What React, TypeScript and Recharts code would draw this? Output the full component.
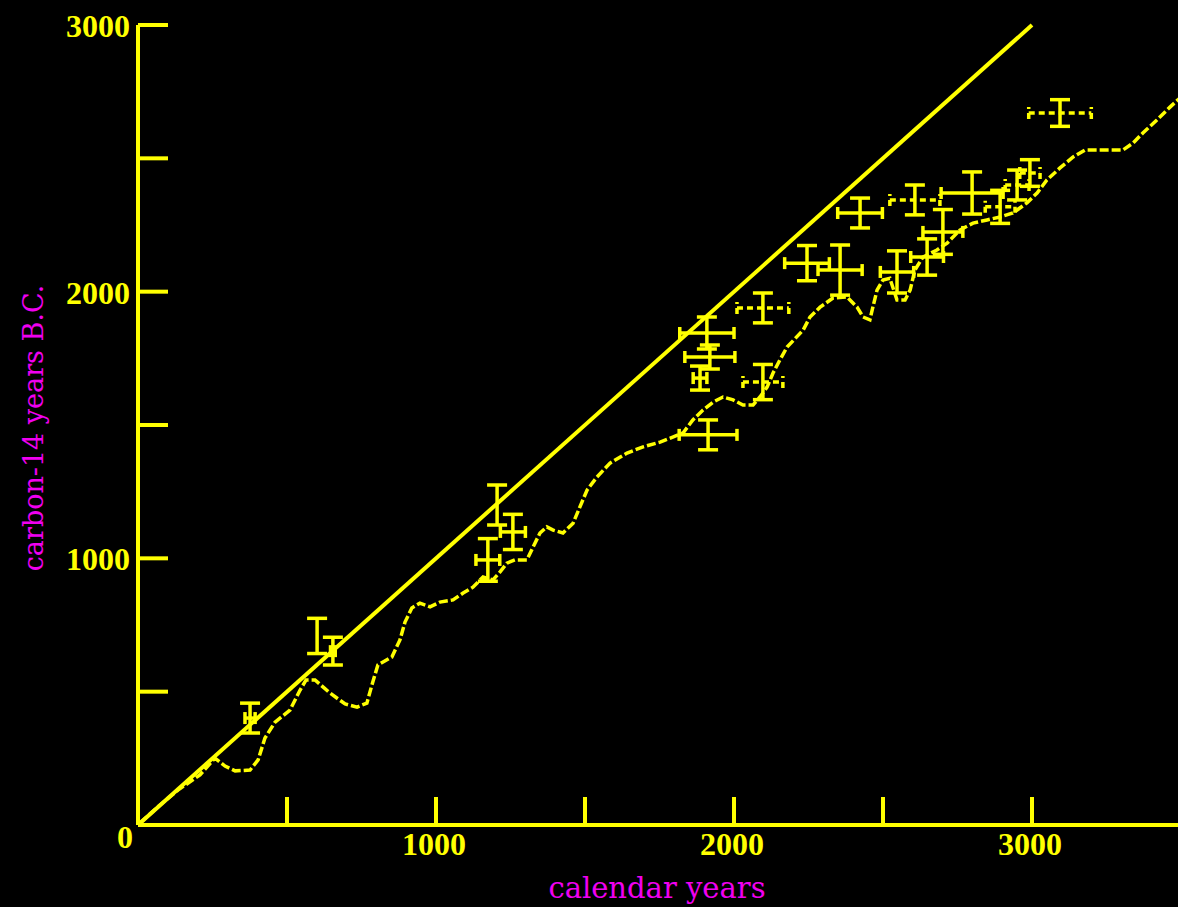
import React from 'react';
import { ScatterChart, Scatter, XAxis, YAxis, ErrorBar } from 'recharts';

const YELLOW = '#ffff00';
const MAGENTA = '#f000f0';

const X_TICKS = [0, 500, 1000, 1500, 2000, 2500, 3000, 3500];
const Y_TICKS = [0, 500, 1000, 1500, 2000, 2500, 3000];
const LABELLED = [1000, 2000, 3000];

// calendar years vs carbon-14 years
const DIAGONAL: [number, number][] = [[0, 0], [3000, 3000]];

const CALIBRATION: [number, number][] = [
  [7, 8], [74, 75], [134, 131], [208, 188], [258, 251], [292, 221], [326, 203], [376, 206],
  [403, 244], [426, 326], [460, 386], [510, 431], [544, 506], [564, 544], [594, 544], [644, 495],
  [695, 454], [735, 442], [768, 457], [785, 525], [805, 600], [852, 630], [879, 694], [896, 761],
  [919, 814], [946, 832], [980, 818], [1013, 836], [1057, 844], [1091, 870], [1124, 892],
  [1158, 930], [1191, 919], [1215, 949], [1238, 982], [1265, 994], [1305, 994], [1326, 1043],
  [1349, 1095], [1372, 1118], [1393, 1106], [1426, 1095], [1460, 1132], [1483, 1193],
  [1507, 1256], [1540, 1305], [1584, 1357], [1641, 1395], [1695, 1418], [1752, 1436],
  [1829, 1470], [1862, 1519], [1896, 1556], [1930, 1586], [1963, 1605], [1997, 1594],
  [2030, 1575], [2064, 1575], [2087, 1605], [2111, 1642], [2131, 1695], [2154, 1744],
  [2178, 1792], [2232, 1856], [2255, 1905], [2289, 1942], [2332, 1976], [2379, 1980],
  [2413, 1942], [2433, 1905], [2456, 1894], [2466, 1942], [2480, 2006], [2500, 2044],
  [2523, 2050], [2547, 1969], [2574, 1969], [2591, 2006], [2607, 2081], [2634, 2130],
  [2681, 2156], [2715, 2182], [2758, 2231], [2802, 2257], [2849, 2269], [2893, 2280],
  [2936, 2295], [2983, 2333], [3017, 2370], [3050, 2419], [3094, 2464], [3138, 2505],
  [3178, 2531], [3228, 2531], [3305, 2531], [3339, 2557], [3372, 2595], [3419, 2644],
  [3463, 2692], [3500, 2730],
];

// [calendar, c14, calendar error, c14 error]
const SAMPLES: [number, number, number, number][] = [
  [376, 401, 17, 56], [601, 709, 0, 66], [654, 652, 8, 52], [1205, 1200, 0, 75],
  [1258, 1099, 42, 66], [1174, 994, 40, 80], [1909, 1845, 91, 60], [1919, 1755, 84, 45],
  [1886, 1676, 23, 45], [1913, 1463, 97, 56], [2245, 2107, 75, 66], [2356, 2081, 74, 94],
  [2423, 2295, 75, 56], [2547, 2074, 56, 79], [2648, 2130, 55, 68], [2701, 2224, 67, 84],
  [2799, 2370, 104, 79],
];

// samples whose calendar range is drawn dashed
const SAMPLES_DASHED: [number, number, number, number][] = [
  [2097, 1939, 87, 56], [2097, 1661, 67, 66], [2607, 2344, 84, 56], [2893, 2318, 50, 62],
  [2950, 2400, 40, 56], [2993, 2445, 34, 50], [3094, 2670, 105, 50],
];

const toXY = (rows: [number, number][]) => rows.map(([x, y]) => ({ x, y }));
const toErr = (rows: [number, number, number, number][]) =>
  rows.map(([x, y, ex, ey]) => ({ x, y, ex, ey }));

const noDot = () => <g />;

const numFont = { fontFamily: '"Liberation Serif", serif', fontSize: 32, fontWeight: 700, fill: YELLOW };

const XTick = (props: any) => {
  const { x, y, payload } = props;
  const v = payload.value;
  return (
    <g>
      {v > 0 && <line x1={x} y1={y} x2={x} y2={y - 28} stroke={YELLOW} strokeWidth={4} />}
      {LABELLED.includes(v) && (
        <text x={x - 2} y={y + 30} textAnchor="middle" {...numFont}>{v}</text>
      )}
      {v === 0 && (
        <text x={x - 13} y={y + 23} textAnchor="middle" {...numFont}>0</text>
      )}
    </g>
  );
};

const YTick = (props: any) => {
  const { x, y, payload } = props;
  const v = payload.value;
  return (
    <g>
      {v > 0 && <line x1={x} y1={y} x2={x + 30} y2={y} stroke={YELLOW} strokeWidth={4} />}
      {LABELLED.includes(v) && (
        <text x={x - 8} y={y + 12} textAnchor="end" {...numFont}>{v}</text>
      )}
    </g>
  );
};

export default function App() {
  return (
    <div style={{ position: 'absolute', left: 0, top: 0, width: 1178, height: 907, overflow: 'hidden', background: '#000' }}>
      <ScatterChart width={1200} height={907} margin={{ top: 25, right: 19, bottom: 0, left: 0 }}>
        <XAxis
          type="number"
          dataKey="x"
          domain={[0, 3500]}
          ticks={X_TICKS}
          interval={0}
          height={82}
          tickSize={0}
          tickMargin={0}
          tickLine={false}
          axisLine={{ stroke: YELLOW, strokeWidth: 4 }}
          tick={<XTick />}
        />
        <YAxis
          type="number"
          dataKey="y"
          domain={[0, 3000]}
          ticks={Y_TICKS}
          interval={0}
          width={138}
          tickSize={0}
          tickMargin={0}
          tickLine={false}
          axisLine={{ stroke: YELLOW, strokeWidth: 4 }}
          tick={<YTick />}
        />
        <Scatter
          data={toXY(DIAGONAL)}
          shape={noDot}
          stroke={YELLOW}
          line={{ stroke: YELLOW, strokeWidth: 4 }}
          lineType="joint"
          isAnimationActive={false}
        />
        <Scatter
          data={toXY(CALIBRATION)}
          shape={noDot}
          stroke={YELLOW}
          line={{ stroke: YELLOW, strokeWidth: 3.5, strokeDasharray: '9 3' }}
          lineType="joint"
          isAnimationActive={false}
        />
        <Scatter data={toErr(SAMPLES)} shape={noDot} isAnimationActive={false}>
          <ErrorBar dataKey="ex" direction="x" width={6} stroke={YELLOW} strokeWidth={3.5} />
          <ErrorBar dataKey="ey" direction="y" width={10} stroke={YELLOW} strokeWidth={3.5} />
        </Scatter>
        <Scatter data={toErr(SAMPLES_DASHED)} shape={noDot} isAnimationActive={false}>
          <ErrorBar dataKey="ex" direction="x" width={6} stroke={YELLOW} strokeWidth={3.5} strokeDasharray="6 4" />
          <ErrorBar dataKey="ey" direction="y" width={10} stroke={YELLOW} strokeWidth={3.5} />
        </Scatter>
      </ScatterChart>
      <svg width={1178} height={907} style={{ position: 'absolute', left: 0, top: 0, pointerEvents: 'none' }}>
        <text x={657} y={898} textAnchor="middle" fontFamily='"DejaVu Serif", serif' fontSize={29} fill={MAGENTA}>
          calendar years
        </text>
        <text
          x={43}
          y={428}
          textAnchor="middle"
          transform="rotate(-90, 43, 428)"
          fontFamily='"DejaVu Serif", serif'
          fontSize={27}
          fill={MAGENTA}
        >
          carbon-14 years B.C.
        </text>
      </svg>
    </div>
  );
}
